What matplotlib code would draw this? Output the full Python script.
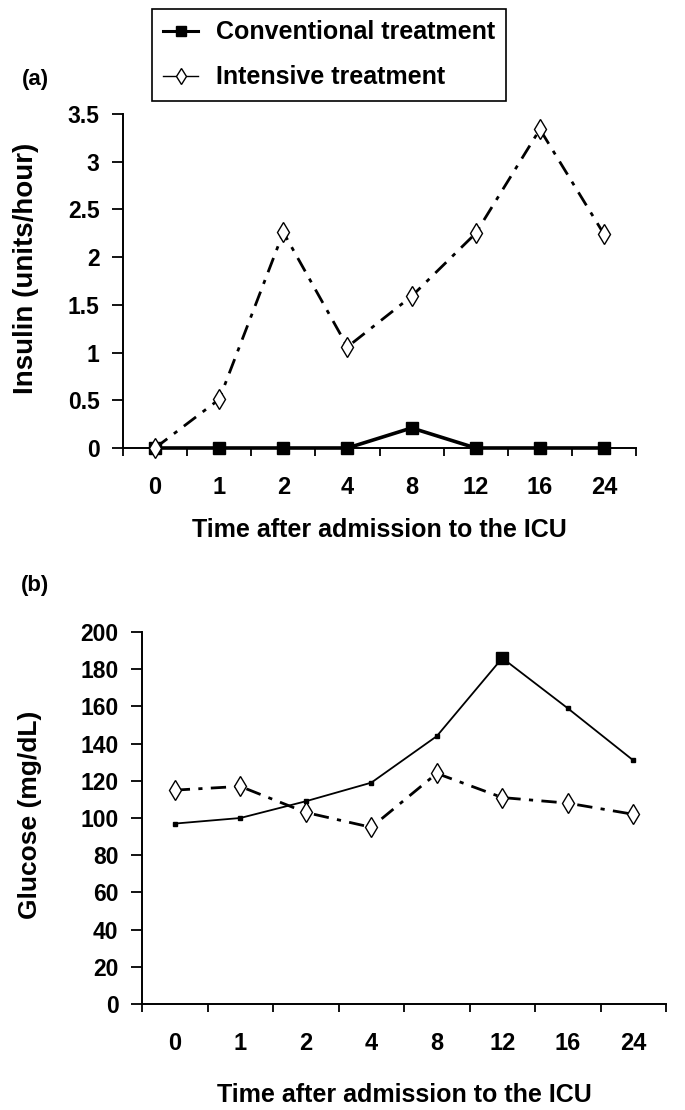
import numpy as np
import matplotlib
matplotlib.use("Agg")
import matplotlib.pyplot as plt
from matplotlib.lines import Line2D

plt.rcParams['font.family'] = ['Liberation Sans', 'DejaVu Sans']
plt.rcParams['font.weight'] = 'bold'

# data
hours = ['0', '1', '2', '4', '8', '12', '16', '24']
insulin_conv = [0, 0, 0, 0, 0.21, 0, 0, 0]
insulin_int = [0, 0.51, 2.26, 1.06, 1.59, 2.25, 3.34, 2.24]
glucose_conv = [97, 100, 109, 119, 144, 186, 159, 131]
glucose_int = [115, 117, 103, 95, 124, 111, 108, 102]

xlabel = 'Time after admission to the ICU'
dashdot = (0, (5.5, 3, 1.5, 3))


def style_axes(ax, yticks, ylim, xlabelpad):
    """Excel-like axes: left and bottom spines, category ticks between points."""
    x = np.arange(len(hours))
    ax.set_xlim(-0.5, len(hours) - 0.5)
    ax.set_ylim(*ylim)
    ax.set_xticks(x)
    ax.set_xticklabels(hours, fontsize=17, fontweight='bold')
    ax.set_xticks(np.arange(len(hours) + 1) - 0.5, minor=True)
    ax.tick_params(axis='x', which='major', length=0, pad=20)
    ax.tick_params(axis='x', which='minor', length=6, width=1.3, direction='out')
    ax.set_yticks(yticks)
    ax.set_yticklabels([f'{v:g}' for v in yticks], fontsize=16.5, fontweight='bold')
    ax.tick_params(axis='y', length=8, width=1.3, direction='out', pad=9)
    for s in ['top', 'right']:
        ax.spines[s].set_visible(False)
    for s in ['left', 'bottom']:
        ax.spines[s].set_linewidth(1.4)
    ax.set_xlabel(xlabel, fontsize=18, fontweight='bold', labelpad=xlabelpad)


fig = plt.figure(figsize=(6.85, 11.1), dpi=100)
x = np.arange(len(hours))

# (a) insulin
axa = fig.add_axes([0.1796, 0.5964, 0.749, 0.3009])
axa.plot(x, insulin_conv, '-', color='black', lw=2.6, marker='s', ms=8.5,
         clip_on=False, zorder=3)
axa.plot(x, insulin_int, color='black', lw=2, linestyle=dashdot, marker='d',
         ms=10.5, mfc='white', mec='black', mew=1, clip_on=False, zorder=4)
style_axes(axa, np.arange(0, 3.51, 0.5), (0, 3.5), 14)
axa.set_ylabel('Insulin (units/hour)', fontsize=20, fontweight='bold')
axa.yaxis.set_label_coords(39 / 685, 1 - 268 / 1110, transform=fig.transFigure)

# (b) glucose
axb = fig.add_axes([0.2073, 0.0955, 0.765, 0.3351])
axb.plot(x, glucose_conv, '-', color='black', lw=1.3, marker='s', ms=3.5,
         clip_on=False, zorder=3)
peak = int(np.argmax(glucose_conv))
axb.plot(x[peak], glucose_conv[peak], 's', color='black', ms=9, zorder=3)
axb.plot(x, glucose_int, color='black', lw=2, linestyle=dashdot, marker='d',
         ms=10.5, mfc='white', mec='black', mew=1, clip_on=False, zorder=4)
style_axes(axb, np.arange(0, 201, 20), (0, 200), 20)
axb.set_ylabel('Glucose (mg/dL)', fontsize=19, fontweight='bold')
axb.yaxis.set_label_coords(42 / 685, 1 - 815 / 1110, transform=fig.transFigure)

fig.text(35 / 685, 1 - 79 / 1110, '(a)', fontsize=16, fontweight='bold',
         ha='center', va='center')
fig.text(35 / 685, 1 - 586 / 1110, '(b)', fontsize=16, fontweight='bold',
         ha='center', va='center')

handles = [
    Line2D([], [], color='black', lw=2.2, marker='s', ms=7),
    Line2D([], [], color='black', lw=1, marker='d', ms=8, mfc='white', mec='black', mew=1),
]
leg = fig.legend(handles, ['Conventional treatment', 'Intensive treatment'],
                 loc='upper left', bbox_to_anchor=(152 / 685, 1 - 9 / 1110),
                 prop={'family': 'Liberation Sans', 'weight': 'bold', 'size': 18},
                 frameon=True, fancybox=False, edgecolor='black', framealpha=1,
                 handlelength=1.4, labelspacing=0.85, borderpad=0.45,
                 borderaxespad=0, handletextpad=0.7)
leg.get_frame().set_linewidth(1.2)

fig.savefig('out.png', dpi=100)
